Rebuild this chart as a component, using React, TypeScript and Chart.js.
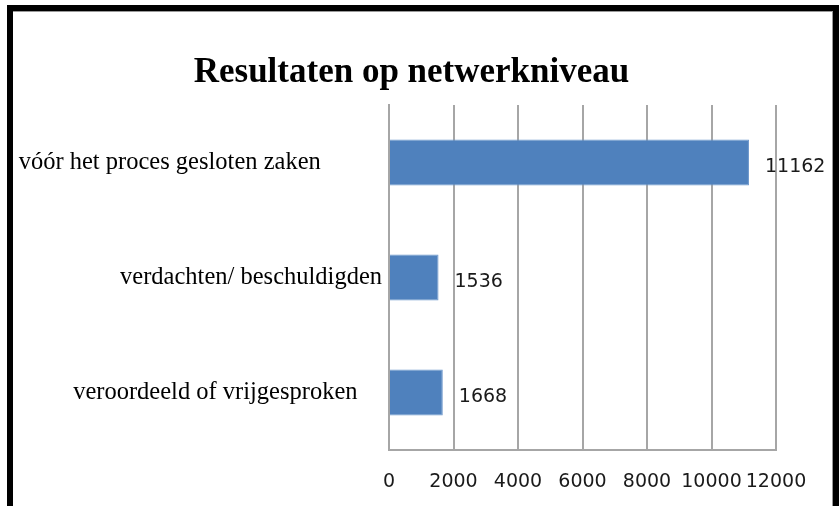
import React, { useEffect, useRef } from "react";
import { Chart, registerables } from "chart.js";

Chart.register(...registerables);

const chartTitle = "Resultaten op netwerkniveau";
const categories = [
  "vóór het proces gesloten zaken",
  "verdachten/ beschuldigden",
  "veroordeeld of vrijgesproken",
];
const values = [11162, 1536, 1668];
const xTicksMin = 0;
const xTicksMax = 12000;
const xTickStep = 2000;
// extra trailing spaces per label to mimic the original's uneven label placement
const labelTrail = [10, 0, 4];

const W = 839;
const H = 506;

const valueLabelPlugin = {
  id: "valueLabels",
  afterDatasetsDraw(chart: any) {
    const ctx = chart.ctx;
    const meta = chart.getDatasetMeta(0);
    ctx.save();
    ctx.font = "19px 'DejaVu Sans'";
    ctx.fillStyle = "#1a1a1a";
    ctx.textAlign = "left";
    ctx.textBaseline = "middle";
    meta.data.forEach((bar: any, i: number) => {
      const v = chart.data.datasets[0].data[i];
      ctx.fillText(String(v), bar.x + 16, bar.y + 5);
    });
    ctx.restore();
  },
};

export default function App() {
  const ref = useRef<HTMLCanvasElement | null>(null);

  useEffect(() => {
    if (!ref.current) return;
    const chart = new Chart(ref.current, {
      type: "bar",
      data: {
        labels: categories,
        datasets: [
          {
            data: values,
            backgroundColor: "#4F81BD",
            borderColor: "#6E98CC",
            borderWidth: 1,
            barPercentage: 0.4,
            categoryPercentage: 1,
          },
        ],
      },
      options: {
        indexAxis: "y",
        animation: false,
        responsive: false,
        maintainAspectRatio: false,
        devicePixelRatio: 1,
        layout: { padding: { left: 0, right: 16, top: 0, bottom: 0 } },
        plugins: {
          legend: { display: false },
          tooltip: { enabled: false },
          title: {
            display: true,
            text: chartTitle,
            color: "#000",
            font: { family: "'Liberation Serif'", size: 35, weight: "bold" },
            padding: { top: 52, bottom: 11 },
          },
        },
        scales: {
          x: {
            min: xTicksMin,
            max: xTicksMax,
            ticks: {
              stepSize: xTickStep,
              color: "#1a1a1a",
              font: { family: "'DejaVu Sans'", size: 19 },
              padding: 21,
              callback: (v: any) => String(v),
              maxRotation: 0,
              autoSkip: false,
            },
            grid: { color: "#a6a6a6", lineWidth: 2, drawTicks: false },
            border: { color: "#a6a6a6", width: 2 },
            afterFit: (s: any) => {
              s.height = 56;
              s.paddingRight = 63;
            },
          },
          y: {
            ticks: {
              color: "#000",
              font: { family: "'Liberation Serif'", size: 24.5 },
              padding: 7,
              callback: function (this: any, _v: any, i: number) {
                return categories[i] + " ".repeat(labelTrail[i]);
              },
            },
            grid: { display: false, drawTicks: false },
            border: { color: "#a6a6a6", width: 2 },
            afterFit: (s: any) => {
              s.width = 389;
            },
          },
        },
      },
      plugins: [valueLabelPlugin],
    });
    return () => chart.destroy();
  }, []);

  return (
    <div
      style={{
        position: "absolute",
        left: 0,
        top: 0,
        width: W,
        height: H,
        overflow: "hidden",
        background: "#fff",
      }}
    >
      <canvas
        ref={ref}
        width={W}
        height={H}
        style={{ position: "absolute", left: 0, top: 0, width: W, height: H }}
      />
      <div
        style={{
          position: "absolute",
          left: 7,
          top: 5,
          width: 832,
          height: 600,
          border: "6px solid #000",
          boxSizing: "border-box",
          boxShadow: "inset -1px 1px 0 #999",
          pointerEvents: "none",
        }}
      />
    </div>
  );
}
